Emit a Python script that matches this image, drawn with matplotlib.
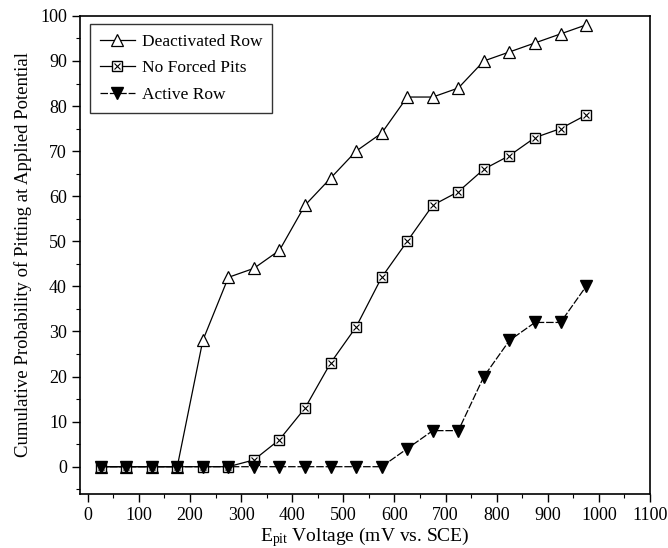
import matplotlib
matplotlib.use("Agg")
import matplotlib.pyplot as plt
from matplotlib.ticker import MultipleLocator

plt.rcParams['font.family'] = ['Liberation Serif', 'DejaVu Serif']
plt.rcParams['mathtext.fontset'] = 'custom'
plt.rcParams['mathtext.rm'] = 'Liberation Serif'
plt.rcParams['mathtext.it'] = 'Liberation Serif:italic'

voltage = [25, 75, 125, 175, 225, 275, 325, 375, 425, 475,
           525, 575, 625, 675, 725, 775, 825, 875, 925, 975]
deactivated = [0, 0, 0, 0, 28, 42, 44, 48, 58, 64,
               70, 74, 82, 82, 84, 90, 92, 94, 96, 98]
no_forced = [0, 0, 0, 0, 0, 0, 1.5, 6, 13, 23,
             31, 42, 50, 58, 61, 66, 69, 73, 75, 78]
active = [0, 0, 0, 0, 0, 0, 0, 0, 0, 0,
          0, 0, 4, 8, 8, 20, 28, 32, 32, 40]

fig = plt.figure(figsize=(6.68, 5.48), dpi=100)
ax = fig.add_axes([0.12, 0.099, 0.853, 0.872])

l1, = ax.plot(voltage, deactivated, color='black', lw=0.9, marker='^',
              ms=8, mfc='white', mec='black', mew=0.9, zorder=3)
l2, = ax.plot(voltage, no_forced, color='black', lw=0.9, marker='s',
              ms=7, mfc='white', mec='black', mew=1.0, zorder=3)
l2x, = ax.plot(voltage, no_forced, ls='none', marker='x', ms=5,
               mec='black', mew=0.8, zorder=4)
l3, = ax.plot(voltage, active, color='black', lw=0.9, ls=(0, (6, 1.5)),
              marker='v', ms=8, mfc='black', mec='black', zorder=5)

ax.set_xlim(-15, 1100)
ax.set_ylim(-6, 100)
ax.xaxis.set_major_locator(MultipleLocator(100))
ax.xaxis.set_minor_locator(MultipleLocator(50))
ax.yaxis.set_major_locator(MultipleLocator(10))
ax.yaxis.set_minor_locator(MultipleLocator(5))
ax.tick_params(which='major', direction='out', length=6, width=1, labelsize=13)
ax.tick_params(which='minor', direction='out', length=3, width=0.8)
for s in ax.spines.values():
    s.set_linewidth(1.2)

ax.set_xlabel(r"E$_{\rm pit}$ Voltage (mV vs. SCE)", fontsize=14, labelpad=1)
ax.set_ylabel("Cumulative Probability of Pitting at Applied Potential",
              fontsize=13.5, labelpad=6)

leg = ax.legend([l1, (l2, l2x), l3],
                ["Deactivated Row", "No Forced Pits", "Active Row"],
                loc='upper left', bbox_to_anchor=(0.012, 0.99),
                fontsize=12.5, frameon=True, fancybox=False,
                edgecolor='black', handlelength=2.0, handletextpad=0.4,
                labelspacing=0.6, borderpad=0.55, borderaxespad=0.2)
leg.get_frame().set_linewidth(1.0)

fig.savefig("out.png", dpi=100)
